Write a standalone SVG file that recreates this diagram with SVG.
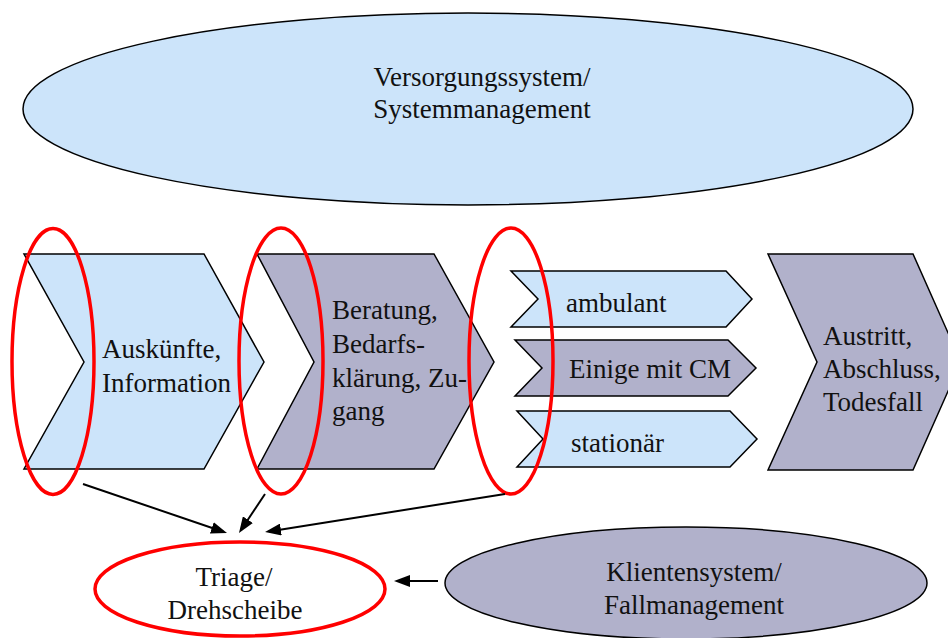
<svg xmlns="http://www.w3.org/2000/svg" width="948" height="638" viewBox="0 0 948 638" font-family="Liberation Serif, Times New Roman, serif" font-size="27">
<style>
.t{font-family:"Liberation Serif","Times New Roman",serif;font-size:27px;fill:#111}
.blue{fill:#cce4fa;stroke:#000;stroke-width:1.5}
.gray{fill:#b1b1cb;stroke:#000;stroke-width:1.5}
.red{fill:none;stroke:#ff0000;stroke-width:3.5}
.mid{text-anchor:middle}
.conn line{stroke:#000;stroke-width:2;marker-end:url(#ah)}
</style>
<defs>
<marker id="ah" markerUnits="userSpaceOnUse" markerWidth="16" markerHeight="12" refX="12" refY="6" orient="auto">
<path d="M0,0 L16,6 L0,12 z" fill="#000"/>
</marker>
</defs>
<g id="versorgung">
<ellipse class="blue" cx="468" cy="109" rx="445" ry="96"/>
<text class="t mid" x="482" y="86">Versorgungssystem/</text>
<text class="t mid" x="482" y="118">Systemmanagement</text>
</g>
<g id="auskuenfte">
<polygon class="blue" points="24,254 204,254 264,362 204,469 24,469 84,362"/>
<text class="t" x="102" y="358">Auskünfte,</text>
<text class="t" x="102" y="392">Information</text>
</g>
<g id="beratung">
<polygon class="gray" points="257,254 434,254 494,362 434,469 257,469 314,362"/>
<text class="t" x="332" y="319">Beratung,</text>
<text class="t" x="332" y="353">Bedarfs-</text>
<text class="t" x="332" y="387">klärung, Zu-</text>
<text class="t" x="332" y="420">gang</text>
</g>
<g id="ambulant">
<polygon class="blue" points="511,271 726,271 752,299 726,327 511,327 538,299"/>
<text class="t" x="566" y="312">ambulant</text>
</g>
<g id="einige">
<polygon class="gray" points="515,340 728,340 756,368 728,396 515,396 542,368"/>
<text class="t" x="569" y="378">Einige mit CM</text>
</g>
<g id="stationaer">
<polygon class="blue" points="517,411 730,411 757,439 730,467 517,467 543,439"/>
<text class="t" x="571" y="452">stationär</text>
</g>
<g id="austritt">
<polygon class="gray" points="768,254 913,254 961,362 913,470 768,470 817,362"/>
<text class="t" x="823" y="345">Austritt,</text>
<text class="t" x="823" y="378">Abschluss,</text>
<text class="t" x="823" y="411">Todesfall</text>
</g>
<g id="markierung1"><ellipse class="red" cx="53" cy="361.5" rx="41" ry="133"/></g>
<g id="markierung2"><ellipse class="red" cx="281" cy="361" rx="42" ry="133"/></g>
<g id="markierung3"><ellipse class="red" cx="511" cy="361" rx="42" ry="133"/></g>
<g id="triage">
<ellipse cx="240" cy="589" rx="145" ry="47" fill="#fff" stroke="#ff0000" stroke-width="3.5"/>
<text class="t mid" x="234" y="586">Triage/</text>
<text class="t mid" x="235" y="619">Drehscheibe</text>
</g>
<g id="klientensystem">
<ellipse class="gray" cx="686" cy="583" rx="241" ry="56"/>
<text class="t mid" x="694" y="581">Klientensystem/</text>
<text class="t mid" x="694" y="614">Fallmanagement</text>
</g>
<g id="connectors" class="conn">
<line x1="83" y1="484" x2="223.2" y2="531.7"/>
<line x1="265" y1="494" x2="241.2" y2="529.7"/>
<line x1="505" y1="494" x2="269" y2="531.4"/>
<line x1="438" y1="581" x2="398" y2="581"/>
</g>
</svg>
